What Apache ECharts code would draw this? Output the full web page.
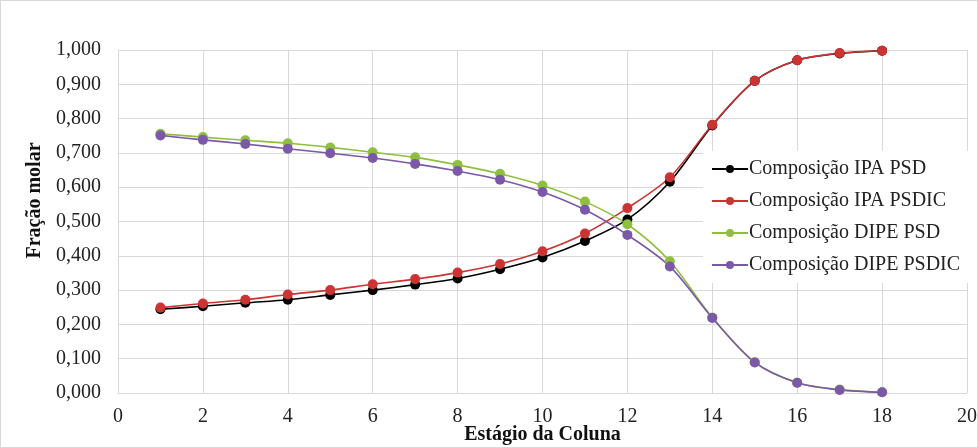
<!DOCTYPE html>
<html>
<head>
<meta charset="utf-8">
<script src="https://cdn.jsdelivr.net/npm/echarts@6/dist/echarts.min.js"></script>
<style>
  html, body { margin: 0; padding: 0; background: #fff; }
  #grafico { width: 978px; height: 448px; box-sizing: border-box; border: 1px solid #d9d9d9; }
</style>
</head>
<body>
<div id="grafico"></div>
<script>
var estagios = [1, 2, 3, 4, 5, 6, 7, 8, 9, 10, 11, 12, 13, 14, 15, 16, 17, 18];
var ipaPSD = [0.244, 0.253, 0.263, 0.272, 0.286, 0.300, 0.316, 0.334, 0.361, 0.395, 0.443, 0.506, 0.616, 0.780, 0.910, 0.970, 0.990, 0.998];
var ipaPSDIC = [0.249, 0.261, 0.272, 0.287, 0.300, 0.317, 0.332, 0.351, 0.376, 0.413, 0.465, 0.539, 0.629, 0.782, 0.910, 0.970, 0.991, 0.998];
var dipePSD = [0.756, 0.746, 0.737, 0.728, 0.716, 0.702, 0.687, 0.665, 0.639, 0.605, 0.558, 0.492, 0.384, 0.220, 0.090, 0.030, 0.010, 0.002];
var dipePSDIC = [0.751, 0.738, 0.726, 0.712, 0.699, 0.685, 0.668, 0.647, 0.622, 0.586, 0.534, 0.461, 0.369, 0.219, 0.089, 0.030, 0.009, 0.002];

var nomes = ['Composição IPA PSD', 'Composição IPA PSDIC', 'Composição DIPE PSD', 'Composição DIPE PSDIC'];
var cores = ['#000000', '#cc3333', '#8fbf3f', '#7b58a8'];

function pares(valores) {
  return estagios.map(function (e, i) { return [e, valores[i]]; });
}

var chartDom = document.getElementById('grafico');
var myChart = echarts.init(chartDom);
var option;

var fonte = 'Liberation Serif, Times New Roman, serif';

option = {
  backgroundColor: '#fff',
  animation: false,
  textStyle: { fontFamily: fonte },
  color: cores,
  grid: { left: 117, right: 10, top: 49, bottom: 54, outerBoundsMode: 'none' },
  legend: {
    orient: 'vertical',
    left: 702,
    top: 150,
    backgroundColor: '#fff',
    padding: [8, 12, 8, 8],
    itemGap: 12,
    itemWidth: 36,
    itemHeight: 10,
    textStyle: { fontFamily: fonte, fontSize: 20, color: '#222', padding: [0, 0, 0, -4] },
    data: nomes
  },
  xAxis: {
    type: 'value',
    min: 0,
    max: 20,
    interval: 2,
    name: 'Estágio da Coluna',
    nameLocation: 'middle',
    nameGap: 32,
    nameMoveOverlap: false,
    nameTextStyle: { fontFamily: fonte, fontSize: 20, fontWeight: 'bold', color: '#111' },
    axisLine: { show: false },
    axisTick: { show: false },
    axisLabel: { fontFamily: fonte, fontSize: 20, color: '#222', margin: 14 },
    splitLine: { show: true, lineStyle: { color: '#d9d9d9', width: 1 } }
  },
  yAxis: {
    type: 'value',
    min: 0,
    max: 1,
    interval: 0.1,
    name: 'Fração molar',
    nameLocation: 'middle',
    nameGap: 72,
    nameTextStyle: { fontFamily: fonte, fontSize: 20, fontWeight: 'bold', color: '#111', padding: [0, 0, 0, 42] },
    axisLine: { show: false },
    axisTick: { show: false },
    axisLabel: {
      fontFamily: fonte, fontSize: 20, color: '#222', margin: 17,
      formatter: function (v) { return v.toFixed(3).replace('.', ','); }
    },
    splitLine: { show: true, lineStyle: { color: '#d9d9d9', width: 1 } }
  },
  series: [ipaPSD, ipaPSDIC, dipePSD, dipePSDIC].map(function (valores, i) {
    return {
      name: nomes[i],
      type: 'line',
      smooth: 0.3,
      symbol: 'circle',
      symbolSize: 10,
      lineStyle: { width: 1.6, color: cores[i] },
      itemStyle: { color: cores[i] },
      data: pares(valores)
    };
  })
};

option && myChart.setOption(option);
</script>
</body>
</html>
